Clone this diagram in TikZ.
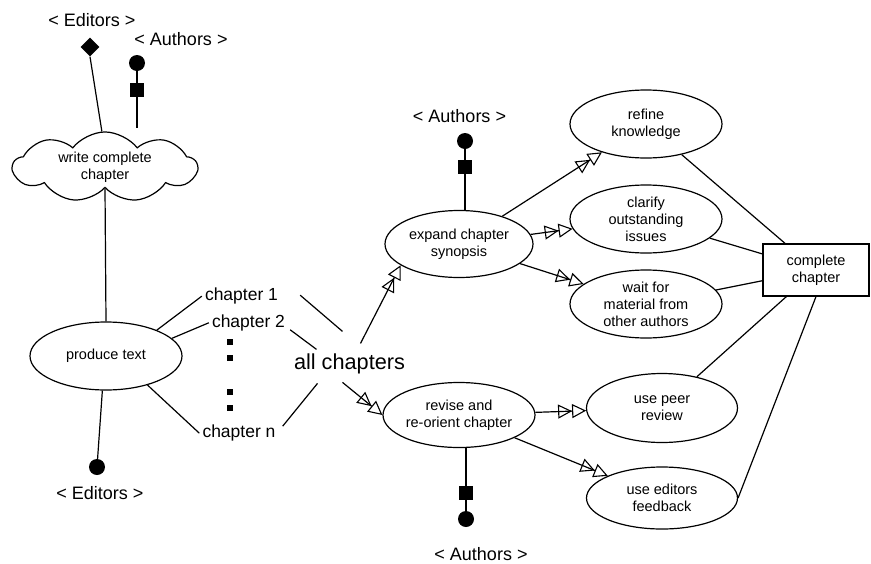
\documentclass[tikz,border=0pt]{standalone}
\usepackage{fontspec}
\setmainfont{Liberation Sans}
\usetikzlibrary{shapes.geometric,shapes.symbols,arrows.meta}
\begin{document}
\begin{tikzpicture}[x=1pt,y=-1pt,
  every node/.style={inner sep=0pt},
  conn/.style={line width=1.2pt},
  usecase/.style={draw, ellipse, line width=1.2pt, align=center,
    font=\fontsize{14.5}{17}\selectfont},
  role/.style={anchor=base, font=\fontsize{18}{20}\selectfont},
  chap/.style={anchor=base, inner sep=3pt, font=\fontsize{17.5}{20}\selectfont},
  flow/.style={conn, -{Triangle[open,length=14pt,width=14pt,line width=1.1pt]
                       Triangle[open,length=14pt,width=14pt,line width=1.1pt]}},
  blob/.style={circle, fill=black, minimum size=16pt},
  blk/.style={rectangle, fill=black, minimum size=14pt},
  dotsq/.style={rectangle, fill=black, minimum size=6pt}
]
\useasboundingbox (0,0) rectangle (871,563);

% actors and their markers
\node[role] (edTop) at (92,26.7) {< Editors >};
\node[role] (auTop) at (181,45) {< Authors >};
\node[diamond, fill=black, minimum size=19pt] (dia) at (90,47) {};
\node[blob] (cA) at (137,63) {};
\node[blk] (sqA) at (137,90) {};

% cloud activity and the main use case
\node[cloud, draw, line width=1.2pt, cloud puffs=9, cloud puff arc=105, aspect=2.6,
      minimum width=184pt, minimum height=70pt, align=center,
      font=\fontsize{14.5}{17}\selectfont] (cloud) at (105,167) {write complete\\chapter};
\node[usecase, minimum width=152pt, minimum height=68pt] (prod) at (106,356) {produce text};
\node[blob] (cE) at (97,467) {};
\node[role] (edBot) at (100,499) {< Editors >};

\draw[conn] (dia.south) -- (cloud.95);
\draw[conn] (cA) -- (sqA);
\draw[conn] (sqA) -- ([yshift=3pt]sqA |- cloud.north);
\draw[conn] (cloud.south) -- (prod.north);
\draw[conn] (prod.264) -- (cE);

% chapters
\node[chap] (ch1) at (241.5,300.7) {chapter 1};
\node[chap] (ch2) at (248.5,327.3) {chapter 2};
\node[chap] (chn) at (239,437.7) {chapter n};
\node[dotsq] (d1) at (230,342) {};
\node[dotsq] (d2) at (230,358) {};
\node[dotsq] (d3) at (230,392) {};
\node[dotsq] (d4) at (230,408) {};
\node[anchor=base, font=\fontsize{21.7}{24}\selectfont] (allch) at (349.5,369) {all chapters};

\draw[conn] (prod.27) -- (ch1.west);
\draw[conn] (prod.15) -- (ch2.west);
\draw[conn] (prod.-35) -- (chn.west);
\draw[conn] ([shift={(19,-1)}]ch1.east) -- ([shift={(-7,-32)}]allch.center);
\draw[conn] ([shift={(2,7)}]ch2.east) -- ([shift={(-33,-14)}]allch.center);
\draw[conn] ([shift={(4,-7)}]chn.east) -- ([shift={(-32,20)}]allch.center);

% expanding and revising
\node[usecase, minimum width=148pt, minimum height=67pt] (exp) at (459,244) {expand chapter\\synopsis};
\node[usecase, minimum width=152pt, minimum height=65pt] (rev) at (459,415) {revise and\\re-orient chapter};
\node[role] (auMid) at (459.5,122.7) {< Authors >};
\node[blob] (cB) at (465,141) {};
\node[blk] (sqB) at (465,167) {};
\draw[conn] (cB) -- (sqB);
\draw[conn] (sqB) -- (sqB |- exp.north);

\node[blk] (sqC) at (466,493) {};
\node[blob] (cC) at (466,519) {};
\node[role] (auBot) at (481,560) {< Authors >};
\draw[conn] (sqC |- rev.south) -- (sqC);
\draw[conn] (sqC) -- (cC);

\draw[flow] ([shift={(11,-20)}]allch.center) -- (exp.200);
\draw[flow] ([shift={(-7,19)}]allch.center) -- (rev.west);

% sub-activities
\node[usecase, minimum width=152pt, minimum height=68pt] (refine) at (646,124) {refine\\knowledge};
\node[usecase, minimum width=152pt, minimum height=68pt] (clarify) at (646,219) {clarify\\outstanding\\issues};
\node[usecase, minimum width=152pt, minimum height=68pt] (wait) at (646,304) {wait for\\material from\\other authors};
\node[usecase, minimum width=151pt, minimum height=69pt] (peer) at (662,408) {use peer\\review};
\node[usecase, minimum width=151pt, minimum height=62pt] (fb) at (662,498) {use editors\\feedback};

\draw[flow] (exp) -- (refine);
\draw[flow] (exp) -- (clarify);
\draw[flow] (exp) -- (wait);
\draw[flow] (rev) -- (peer);
\draw[flow] (rev) -- (fb);

% result
\node[draw, rectangle, line width=1.2pt, minimum width=106pt, minimum height=52pt, align=center,
      font=\fontsize{14.5}{17}\selectfont] (done) at (816,270) {complete\\chapter};
\draw[conn] (refine) -- (done);
\draw[conn] (clarify) -- (done);
\draw[conn] (wait) -- (done);
\draw[conn] (peer) -- (done);
\draw[conn] (fb.east) -- (done.south);
\end{tikzpicture}
\end{document}
